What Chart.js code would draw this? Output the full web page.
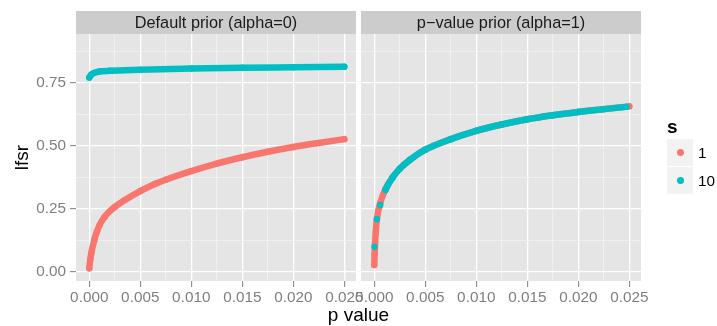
<!DOCTYPE html>
<html>
<head>
<meta charset="utf-8">
<script src="https://cdn.jsdelivr.net/npm/chart.js@4.4.1/dist/chart.umd.min.js"></script>
<style>
  body { margin: 0; background: #fff; overflow: hidden; }
  #wrap { position: relative; width: 717px; height: 326px; font-family: "Liberation Sans", Arial, sans-serif; }
  canvas { position: absolute; top: 0; }
  #xtitle { position: absolute; left: 0; width: 717px; top: 304px; text-align: center; font-size: 19px; line-height: 22px; color: #000; }
  #legend-title { position: absolute; left: 667px; top: 116px; font-size: 19px; font-weight: bold; line-height: 22px; }
  .key { position: absolute; left: 667px; width: 26px; height: 27px; background: #F2F2F2; }
  .key i { position: absolute; left: 9.5px; top: 10px; width: 7px; height: 7px; border-radius: 50%; }
  .key-label { position: absolute; left: 698px; font-size: 15.3px; line-height: 18px; }
</style>
</head>
<body>
<div id="wrap">
  <canvas id="leftPanel" width="370" height="326" style="left:0"></canvas>
  <canvas id="rightPanel" width="310" height="326" style="left:345px"></canvas>
  <div id="xtitle">p value</div>
  <div id="legend-title">s</div>
  <div class="key" style="top:139px"><i style="background:#F8766D"></i></div>
  <div class="key-label" style="top:144px">1</div>
  <div class="key" style="top:167px"><i style="background:#00BFC4"></i></div>
  <div class="key-label" style="top:172px">10</div>
</div>
<script>
// ── Data ──
const STRIPS = ['Default prior (alpha=0)', 'p\u2212value prior (alpha=1)'];

const LEFT_S1_P    = [0, 0.0001, 0.0002, 0.0005, 0.00075, 0.001, 0.0015, 0.0025, 0.0035, 0.005, 0.0065, 0.0075, 0.01, 0.0125, 0.015, 0.0175, 0.02, 0.0225, 0.025];
const LEFT_S1_LFSR = [0.015, 0.05, 0.075, 0.128, 0.16, 0.185, 0.218, 0.258, 0.286, 0.321, 0.35, 0.366, 0.4, 0.43, 0.455, 0.477, 0.496, 0.512, 0.527];

const LEFT_S10_P    = [0, 0.0002, 0.0005, 0.001, 0.002, 0.005, 0.01, 0.015, 0.02, 0.025];
const LEFT_S10_LFSR = [0.771, 0.783, 0.79, 0.795, 0.798, 0.802, 0.807, 0.81, 0.812, 0.814];

const RIGHT_S1_P    = [0, 0.00003, 0.00008, 0.00015, 0.00026, 0.00056, 0.0011, 0.0018, 0.0025, 0.0035, 0.005, 0.0075, 0.01, 0.0125, 0.015, 0.0175, 0.02, 0.0225, 0.025];
const RIGHT_S1_LFSR = [0.028, 0.07, 0.115, 0.16, 0.21, 0.27, 0.33, 0.375, 0.41, 0.445, 0.485, 0.527, 0.56, 0.585, 0.606, 0.622, 0.635, 0.646, 0.657];

const RIGHT_S10_P    = [0.00002, 0.00026, 0.00059, 0.0011, 0.0018, 0.0025, 0.0035, 0.005, 0.0075, 0.01, 0.0125, 0.015, 0.0175, 0.02, 0.0225, 0.0247];
const RIGHT_S10_LFSR = [0.10, 0.209, 0.266, 0.325, 0.375, 0.41, 0.445, 0.485, 0.527, 0.56, 0.585, 0.606, 0.622, 0.635, 0.646, 0.655];

const X_MAJOR  = [0, 0.005, 0.01, 0.015, 0.02, 0.025];
const X_LABELS = ['0.000', '0.005', '0.010', '0.015', '0.020', '0.025'];
const Y_MAJOR  = [0, 0.25, 0.5, 0.75];
const Y_LABELS = ['0.00', '0.25', '0.50', '0.75'];

const X_MIN = -0.0013, X_MAX = 0.02615;
const Y_MIN = -0.0357, Y_MAX = 0.944;

const RED = '#F8766D', CYAN = '#00BFC4';
const FONT = '"Liberation Sans", Arial, sans-serif';
Chart.defaults.font.family = FONT;

// majors plus the midpoints between them (ggplot minor grid)
function withMinor(majors, extraTop) {
  const out = [];
  majors.forEach((m, i) => {
    out.push(m);
    if (i < majors.length - 1) out.push((m + majors[i + 1]) / 2);
  });
  if (extraTop) out.push(majors[majors.length - 1] + (majors[1] - majors[0]) / 2);
  return out;
}
const X_GRID = withMinor(X_MAJOR, false);
const Y_GRID = withMinor(Y_MAJOR, true);

const isMajor = (v, majors) => majors.some(m => Math.abs(m - v) < 1e-9);
const labelFor = (v, majors, labels) => {
  const i = majors.findIndex(m => Math.abs(m - v) < 1e-9);
  return i < 0 ? '' : labels[i];
};
const pts = (xs, ys) => xs.map((x, i) => ({ x, y: ys[i] }));

// panel background + strip header
const panelBg = {
  id: 'panelBg',
  beforeDraw(chart, args, opts) {
    const { ctx, chartArea: a } = chart;
    ctx.save();
    ctx.fillStyle = '#E5E5E5';
    ctx.fillRect(a.left, a.top, a.right - a.left, a.bottom - a.top);
    ctx.fillStyle = '#CCCCCC';
    ctx.fillRect(a.left, 11, a.right - a.left, a.top - 11);
    ctx.fillStyle = '#1A1A1A';
    ctx.font = '16.3px ' + FONT;
    ctx.textAlign = 'center';
    ctx.textBaseline = 'middle';
    ctx.fillText(opts.strip, (a.left + a.right) / 2, (11 + a.top) / 2 + 1);
    ctx.restore();
  }
};

function gridOpts(majors) {
  return {
    color: c => isMajor(c.tick.value, majors) ? '#FFFFFF' : '#F2F2F2',
    lineWidth: c => isMajor(c.tick.value, majors) ? 1.3 : 0.8,
    tickColor: c => isMajor(c.tick.value, majors) ? '#7F7F7F' : 'rgba(0,0,0,0)',
    tickLength: 6,
    tickWidth: 1
  };
}

function series(xs, ys, color, order, extra) {
  return Object.assign({
    data: pts(xs, ys),
    showLine: true,
    borderColor: color,
    backgroundColor: color,
    borderWidth: 6.5,
    borderCapStyle: 'round',
    borderJoinStyle: 'round',
    cubicInterpolationMode: 'monotone',
    pointRadius: 3.2,
    pointBorderWidth: 0,
    order
  }, extra || {});
}

function panelOptions(strip, showY) {
  return {
    responsive: false,
    animation: false,
    layout: { padding: { top: 34, right: 14, left: 0, bottom: 0 } },
    plugins: { legend: { display: false }, tooltip: { enabled: false }, panelBg: { strip } },
    scales: {
      x: {
        type: 'linear', min: X_MIN, max: X_MAX,
        afterBuildTicks: s => { s.ticks = X_GRID.map(v => ({ value: v })); },
        afterFit: s => { s.height = 45; },
        ticks: { autoSkip: false, maxRotation: 0, color: '#7F7F7F', font: { size: 15.3 }, padding: 2,
                 callback: v => labelFor(v, X_MAJOR, X_LABELS) },
        grid: gridOpts(X_MAJOR),
        border: { display: false }
      },
      y: {
        type: 'linear', min: Y_MIN, max: Y_MAX,
        afterBuildTicks: s => { s.ticks = Y_GRID.map(v => ({ value: v })); },
        afterFit: s => { s.width = showY ? 76 : 16; },
        ticks: { display: showY, color: '#7F7F7F', font: { size: 15.3 }, padding: 4,
                 callback: v => labelFor(v, Y_MAJOR, Y_LABELS) },
        grid: Object.assign(gridOpts(Y_MAJOR), { drawTicks: showY }),
        border: { display: false },
        title: { display: showY, text: 'lfsr', color: '#000', font: { size: 19 }, padding: { top: 11 } }
      }
    }
  };
}

new Chart(document.getElementById('leftPanel'), {
  type: 'scatter',
  data: {
    datasets: [
      series(LEFT_S1_P, LEFT_S1_LFSR, RED, 2),
      series(LEFT_S10_P, LEFT_S10_LFSR, CYAN, 1)
    ]
  },
  options: panelOptions(STRIPS[0], true),
  plugins: [panelBg]
});

new Chart(document.getElementById('rightPanel'), {
  type: 'scatter',
  data: {
    datasets: [
      series(RIGHT_S1_P, RIGHT_S1_LFSR, RED, 2),
      series(RIGHT_S10_P, RIGHT_S10_LFSR, CYAN, 1, {
        // the first few s=10 points sit apart as single dots
        segment: { borderColor: c => c.p0DataIndex < 3 ? 'rgba(0,0,0,0)' : CYAN }
      })
    ]
  },
  options: panelOptions(STRIPS[1], false),
  plugins: [panelBg]
});
</script>
</body>
</html>
